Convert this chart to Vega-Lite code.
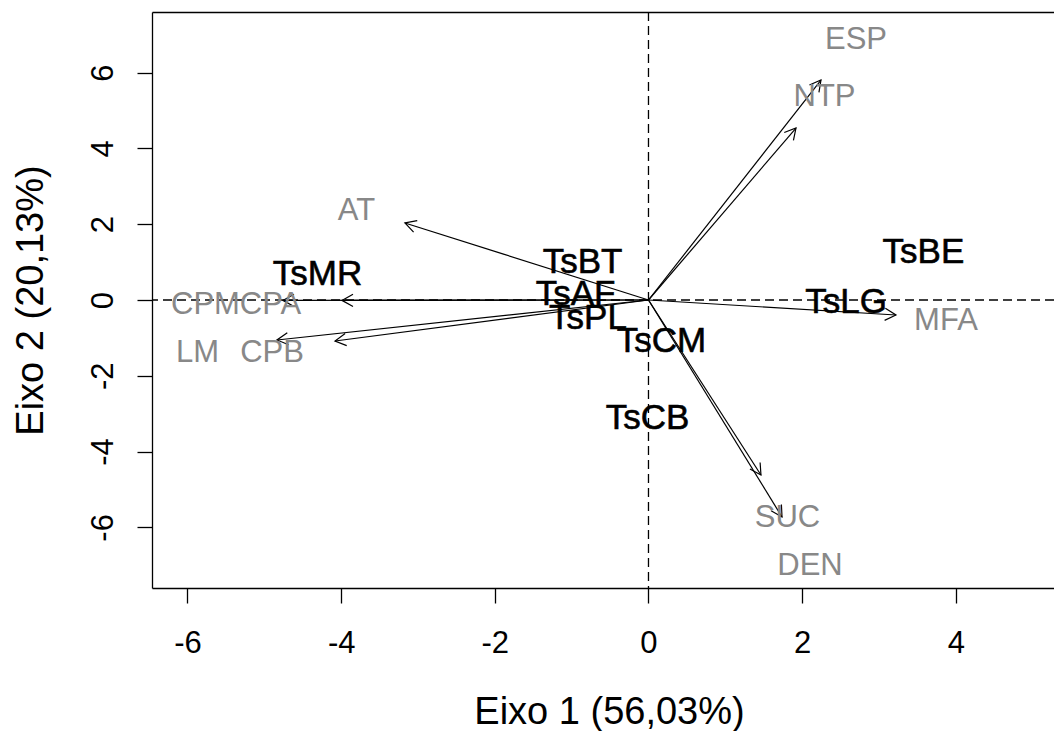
{
  "$schema": "https://vega.github.io/schema/vega-lite/v6.json",
  "width": 902,
  "height": 576,
  "autosize": {"type": "none"},
  "padding": {"left": 152, "top": 12, "right": 0, "bottom": 143},
  "background": "white",
  "config": {
    "font": "Liberation Sans",
    "view": {"stroke": null},
    "axis": {
      "grid": false,
      "domain": true,
      "domainColor": "black",
      "domainWidth": 1.3,
      "tickColor": "black",
      "tickWidth": 1.3,
      "tickSize": 15,
      "labelColor": "black",
      "labelFont": "Liberation Sans",
      "labelFontSize": 31,
      "labelPadding": 25,
      "labelFlush": false,
      "labelOverlap": false,
      "titleFont": "Liberation Sans",
      "titleFontSize": 38,
      "titleFontWeight": "normal",
      "titleColor": "black"
    }
  },
  "datasets": {
    "arrows": [
      {"var": "CPM", "x": -4.757, "y": -0.01},
      {"var": "CPA", "x": -3.989, "y": -0.01},
      {"var": "LM", "x": -4.835, "y": -1.055},
      {"var": "CPB", "x": -4.080, "y": -1.082},
      {"var": "AT", "x": -3.170, "y": 2.032},
      {"var": "ESP", "x": 2.245, "y": 5.805},
      {"var": "NTP", "x": 1.920, "y": 4.538},
      {"var": "MFA", "x": 3.221, "y": -0.396},
      {"var": "SUC", "x": 1.464, "y": -4.617},
      {"var": "DEN", "x": 1.738, "y": -5.726}
    ],
    "varlabels": [
      {"label": "AT", "x": -3.801, "y": 2.401},
      {"label": "CPM", "x": -5.766, "y": -0.092},
      {"label": "CPA", "x": -4.920, "y": -0.092},
      {"label": "LM", "x": -5.870, "y": -1.359},
      {"label": "CPB", "x": -4.900, "y": -1.359},
      {"label": "ESP", "x": 2.701, "y": 6.926},
      {"label": "NTP", "x": 2.291, "y": 5.409},
      {"label": "MFA", "x": 3.872, "y": -0.501},
      {"label": "SUC", "x": 1.809, "y": -5.699},
      {"label": "DEN", "x": 2.102, "y": -6.966}
    ],
    "treatments": [
      {"label": "TsMR", "x": -4.308, "y": 0.752},
      {"label": "TsBT", "x": -0.859, "y": 1.055},
      {"label": "TsAF", "x": -0.950, "y": 0.224},
      {"label": "TsPL", "x": -0.787, "y": -0.435},
      {"label": "TsCM", "x": 0.169, "y": -1.042},
      {"label": "TsBE", "x": 3.579, "y": 1.332},
      {"label": "TsLG", "x": 2.571, "y": -0.01},
      {"label": "TsCB", "x": -0.013, "y": -3.074}
    ]
  },
  "resolve": {"axis": {"x": "independent", "y": "independent"}},
  "layer": [
    {
      "data": {"values": [{"v": 0}]},
      "mark": {"type": "rule", "color": "black", "strokeWidth": 1.3, "strokeDash": [9, 5]},
      "encoding": {
        "x": {"field": "v", "type": "quantitative", "scale": {"domain": [-6.462, 5.278], "nice": false, "zero": false},
              "axis": {"orient": "top", "labels": false, "ticks": false, "title": null, "domain": true}}
      }
    },
    {
      "data": {"values": [{"v": 0}]},
      "mark": {"type": "rule", "color": "black", "strokeWidth": 1.3, "strokeDash": [9, 5]},
      "encoding": {
        "y": {"field": "v", "type": "quantitative", "scale": {"domain": [-7.6, 7.6], "nice": false, "zero": false}, "axis": null}
      }
    },
    {
      "data": {"name": "arrows"},
      "mark": {"type": "rule", "color": "black", "strokeWidth": 1.2},
      "encoding": {
        "x": {"field": "x", "type": "quantitative", "axis": null},
        "y": {"field": "y", "type": "quantitative", "axis": null},
        "x2": {"datum": 0},
        "y2": {"datum": 0}
      }
    },
    {
      "data": {"name": "arrows"},
      "mark": {"type": "point", "filled": false, "stroke": "black", "strokeWidth": 1.2, "opacity": 1,
               "shape": "M -1 -0.55 L 0 0 L -1 0.55", "size": 484},
      "encoding": {
        "x": {"field": "x", "type": "quantitative", "axis": null},
        "y": {"field": "y", "type": "quantitative", "axis": null},
        "angle": {"value": {"expr": "atan2(scale('y', datum.y) - scale('y', 0), scale('x', datum.x) - scale('x', 0)) * 180 / PI"}}
      }
    },
    {
      "data": {"name": "varlabels"},
      "mark": {"type": "text", "color": "#888888", "fontSize": 31, "font": "Liberation Sans", "baseline": "middle", "align": "center", "dy": 2},
      "encoding": {
        "x": {"field": "x", "type": "quantitative",
              "axis": {"orient": "bottom", "values": [-6, -4, -2, 0, 2, 4], "labelExpr": "'' + datum.value",
                       "title": "Eixo 1 (56,03%)", "titleX": 457, "titleY": 135, "titleAlign": "center", "titleBaseline": "alphabetic",
                       "labelAlign": "center", "labelBaseline": "top"}},
        "y": {"field": "y", "type": "quantitative",
              "axis": {"orient": "left", "values": [-6, -4, -2, 0, 2, 4, 6], "labelExpr": "'' + datum.value",
                       "labelAngle": 270, "labelAlign": "center", "labelBaseline": "alphabetic",
                       "title": "Eixo 2 (20,13%)", "titleAngle": 270, "titleX": -110, "titleY": 288, "titleAlign": "center", "titleBaseline": "alphabetic"}},
        "text": {"field": "label"}
      }
    },
    {
      "data": {"name": "treatments"},
      "mark": {"type": "text", "color": "black", "fontSize": 35, "fontWeight": "normal", "font": "Liberation Sans", "baseline": "middle", "align": "center", "dy": 2, "stroke": "black", "strokeWidth": 0.6},
      "encoding": {
        "x": {"field": "x", "type": "quantitative", "axis": null},
        "y": {"field": "y", "type": "quantitative", "axis": null},
        "text": {"field": "label"}
      }
    }
  ]
}
